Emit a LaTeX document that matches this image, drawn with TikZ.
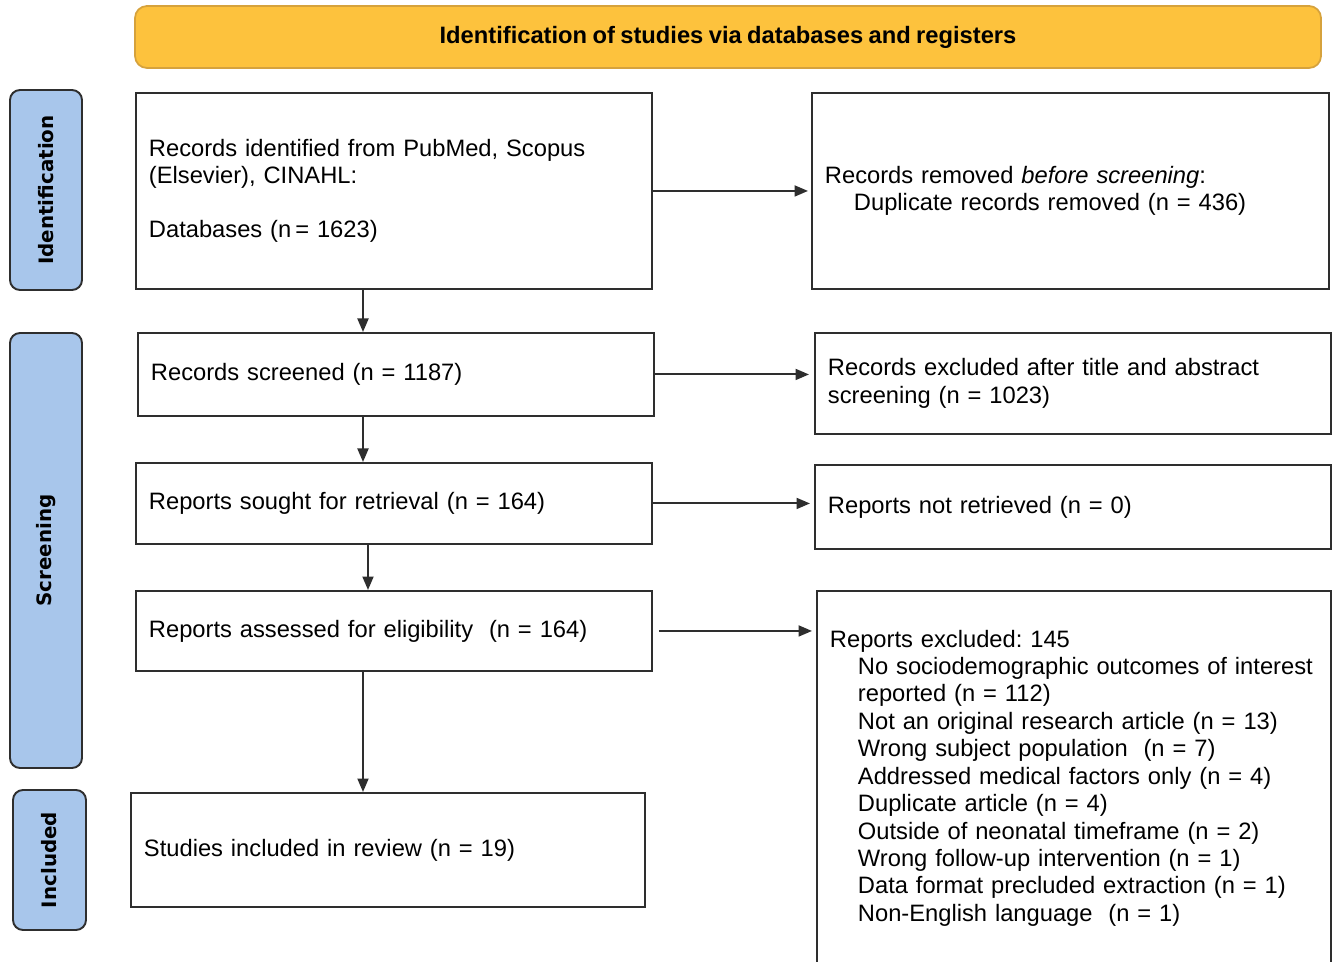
\documentclass[tikz,border=0pt]{standalone}
\usepackage{fontspec}
\setmainfont[WordSpace=0.82]{Liberation Sans}
\newfontfamily\stagefont{DejaVu Sans}
\usetikzlibrary{arrows.meta}
\frenchspacing

\definecolor{bannergold}{HTML}{FDC23D}
\definecolor{bannerrim}{HTML}{D6A23C}
\definecolor{stageblue}{HTML}{A8C6EB}
\definecolor{rimdark}{HTML}{2E2E2E}

% one pixel of the 1336 x 962 layout
\newdimen\pxu
\pxu=0.02cm

\begin{document}
\begin{tikzpicture}[x=0.02cm, y=-0.02cm,
    prismabox/.style={draw=rimdark, line width=1.1pt, anchor=north west,
      align=left, inner xsep=13\pxu, inner ysep=0pt, text width=490\pxu,
      font=\fontsize{13.5}{15.6}\selectfont},
    stagebox/.style={draw=rimdark, line width=1.1pt, fill=stageblue,
      rounded corners=0.2cm, rotate=90, minimum height=72\pxu, inner sep=0pt,
      font=\stagefont\bfseries\fontsize{11.3}{13}\selectfont},
    flow/.style={draw=rimdark, line width=1.1pt,
      -{Triangle[length=0.27cm, width=0.22cm]}}]
    \def\ind{\hspace*{28\pxu}}  % indent of the sub lines

    \useasboundingbox (0,0) rectangle (1336,962);
    \clip (0,0) rectangle (1336,962);

    % Banner over the whole flow
    \node[draw=bannerrim, fill=bannergold, line width=1pt, rounded corners=0.24cm,
      minimum width=1186\pxu, minimum height=62\pxu,
      font=\bfseries\fontsize{13.5}{16}\selectfont] (banner) at (728,37)
      {Identification of studies via databases and registers};

    % Stage labels down the left side
    \node[stagebox, minimum width=200\pxu] (ident) at (46,190) {Identification};
    \node[stagebox, minimum width=435\pxu] (screen) at (46,550.5) {Screening};
    \node[stagebox, minimum width=140\pxu, minimum height=73\pxu] (incl) at (49.5,860) {Included};

    % Main column
    \node[prismabox, minimum height=196\pxu] (records) at (135,92)
      {Records identified\ from PubMed,\ Scopus\\(Elsevier), CINAHL:\\[15pt]Databases (n\,= 1623)};
    \node[prismabox, minimum height=83\pxu] (screened) at (137,332)
      {Records screened (n = 1187)};
    \node[prismabox, minimum height=81\pxu] (sought) at (135,462)
      {Reports sought for retrieval (n = 164)};
    \node[prismabox, minimum height=80\pxu] (assessed) at (135,590)
      {Reports assessed for eligibility\ \ (n = 164)};
    \node[prismabox, minimum height=114\pxu, text width=488\pxu] (included) at (130,792)
      {Studies included in review (n = 19)};

    % Side column
    \node[prismabox, minimum height=196\pxu, text width=491\pxu] (removed) at (811,92)
      {Records removed \textit{before screening}:\\\hspace*{29\pxu}Duplicate records removed (n = 436)};
    \node[prismabox, minimum height=101\pxu] (excluded) at (814,332)
      {Records excluded after title\ and abstract\\screening (n = 1023)};
    \node[prismabox, minimum height=84\pxu] (notret) at (814,464)
      {Reports not retrieved (n = 0)};
    \node[prismabox, text width=488\pxu, inner ysep=39\pxu, text depth=8cm] (reasons) at (816,590)
      {Reports excluded: 145\\
       \ind No sociodemographic outcomes of interest\\
       \ind reported (n = 112)\\
       \ind Not an original research article (n = 13)\\
       \ind Wrong subject population\ \ (n = 7)\\
       \ind Addressed medical factors only (n = 4)\\
       \ind Duplicate article (n = 4)\\
       \ind Outside of neonatal timeframe (n = 2)\\
       \ind Wrong follow-up intervention (n = 1)\\
       \ind Data format precluded extraction (n = 1)\\
       \ind Non-English language\ \ (n = 1)};

    % Downward arrows
    \coordinate (spine) at (363,0);
    \coordinate (spinealt) at (368,0);
    \draw[flow] (records.south -| spine) -- (screened.north -| spine);
    \draw[flow] (screened.south -| spine) -- (sought.north -| spine);
    \draw[flow] (sought.south -| spinealt) -- (assessed.north -| spinealt);
    \draw[flow] (assessed.south -| spine) -- (included.north -| spine);

    % Arrows to the right column
    \draw[flow, shorten >=3\pxu] (records.east) -- (removed.west);
    \draw[flow, shorten >=5\pxu] (screened.east) -- (screened.east -| excluded.west);
    \draw[flow, shorten >=4\pxu] (sought.east) -- (sought.east -| notret.west);
    \draw[flow, shorten <=6\pxu, shorten >=4\pxu] (assessed.east) -- (assessed.east -| reasons.west);

  \end{tikzpicture}
\end{document}
